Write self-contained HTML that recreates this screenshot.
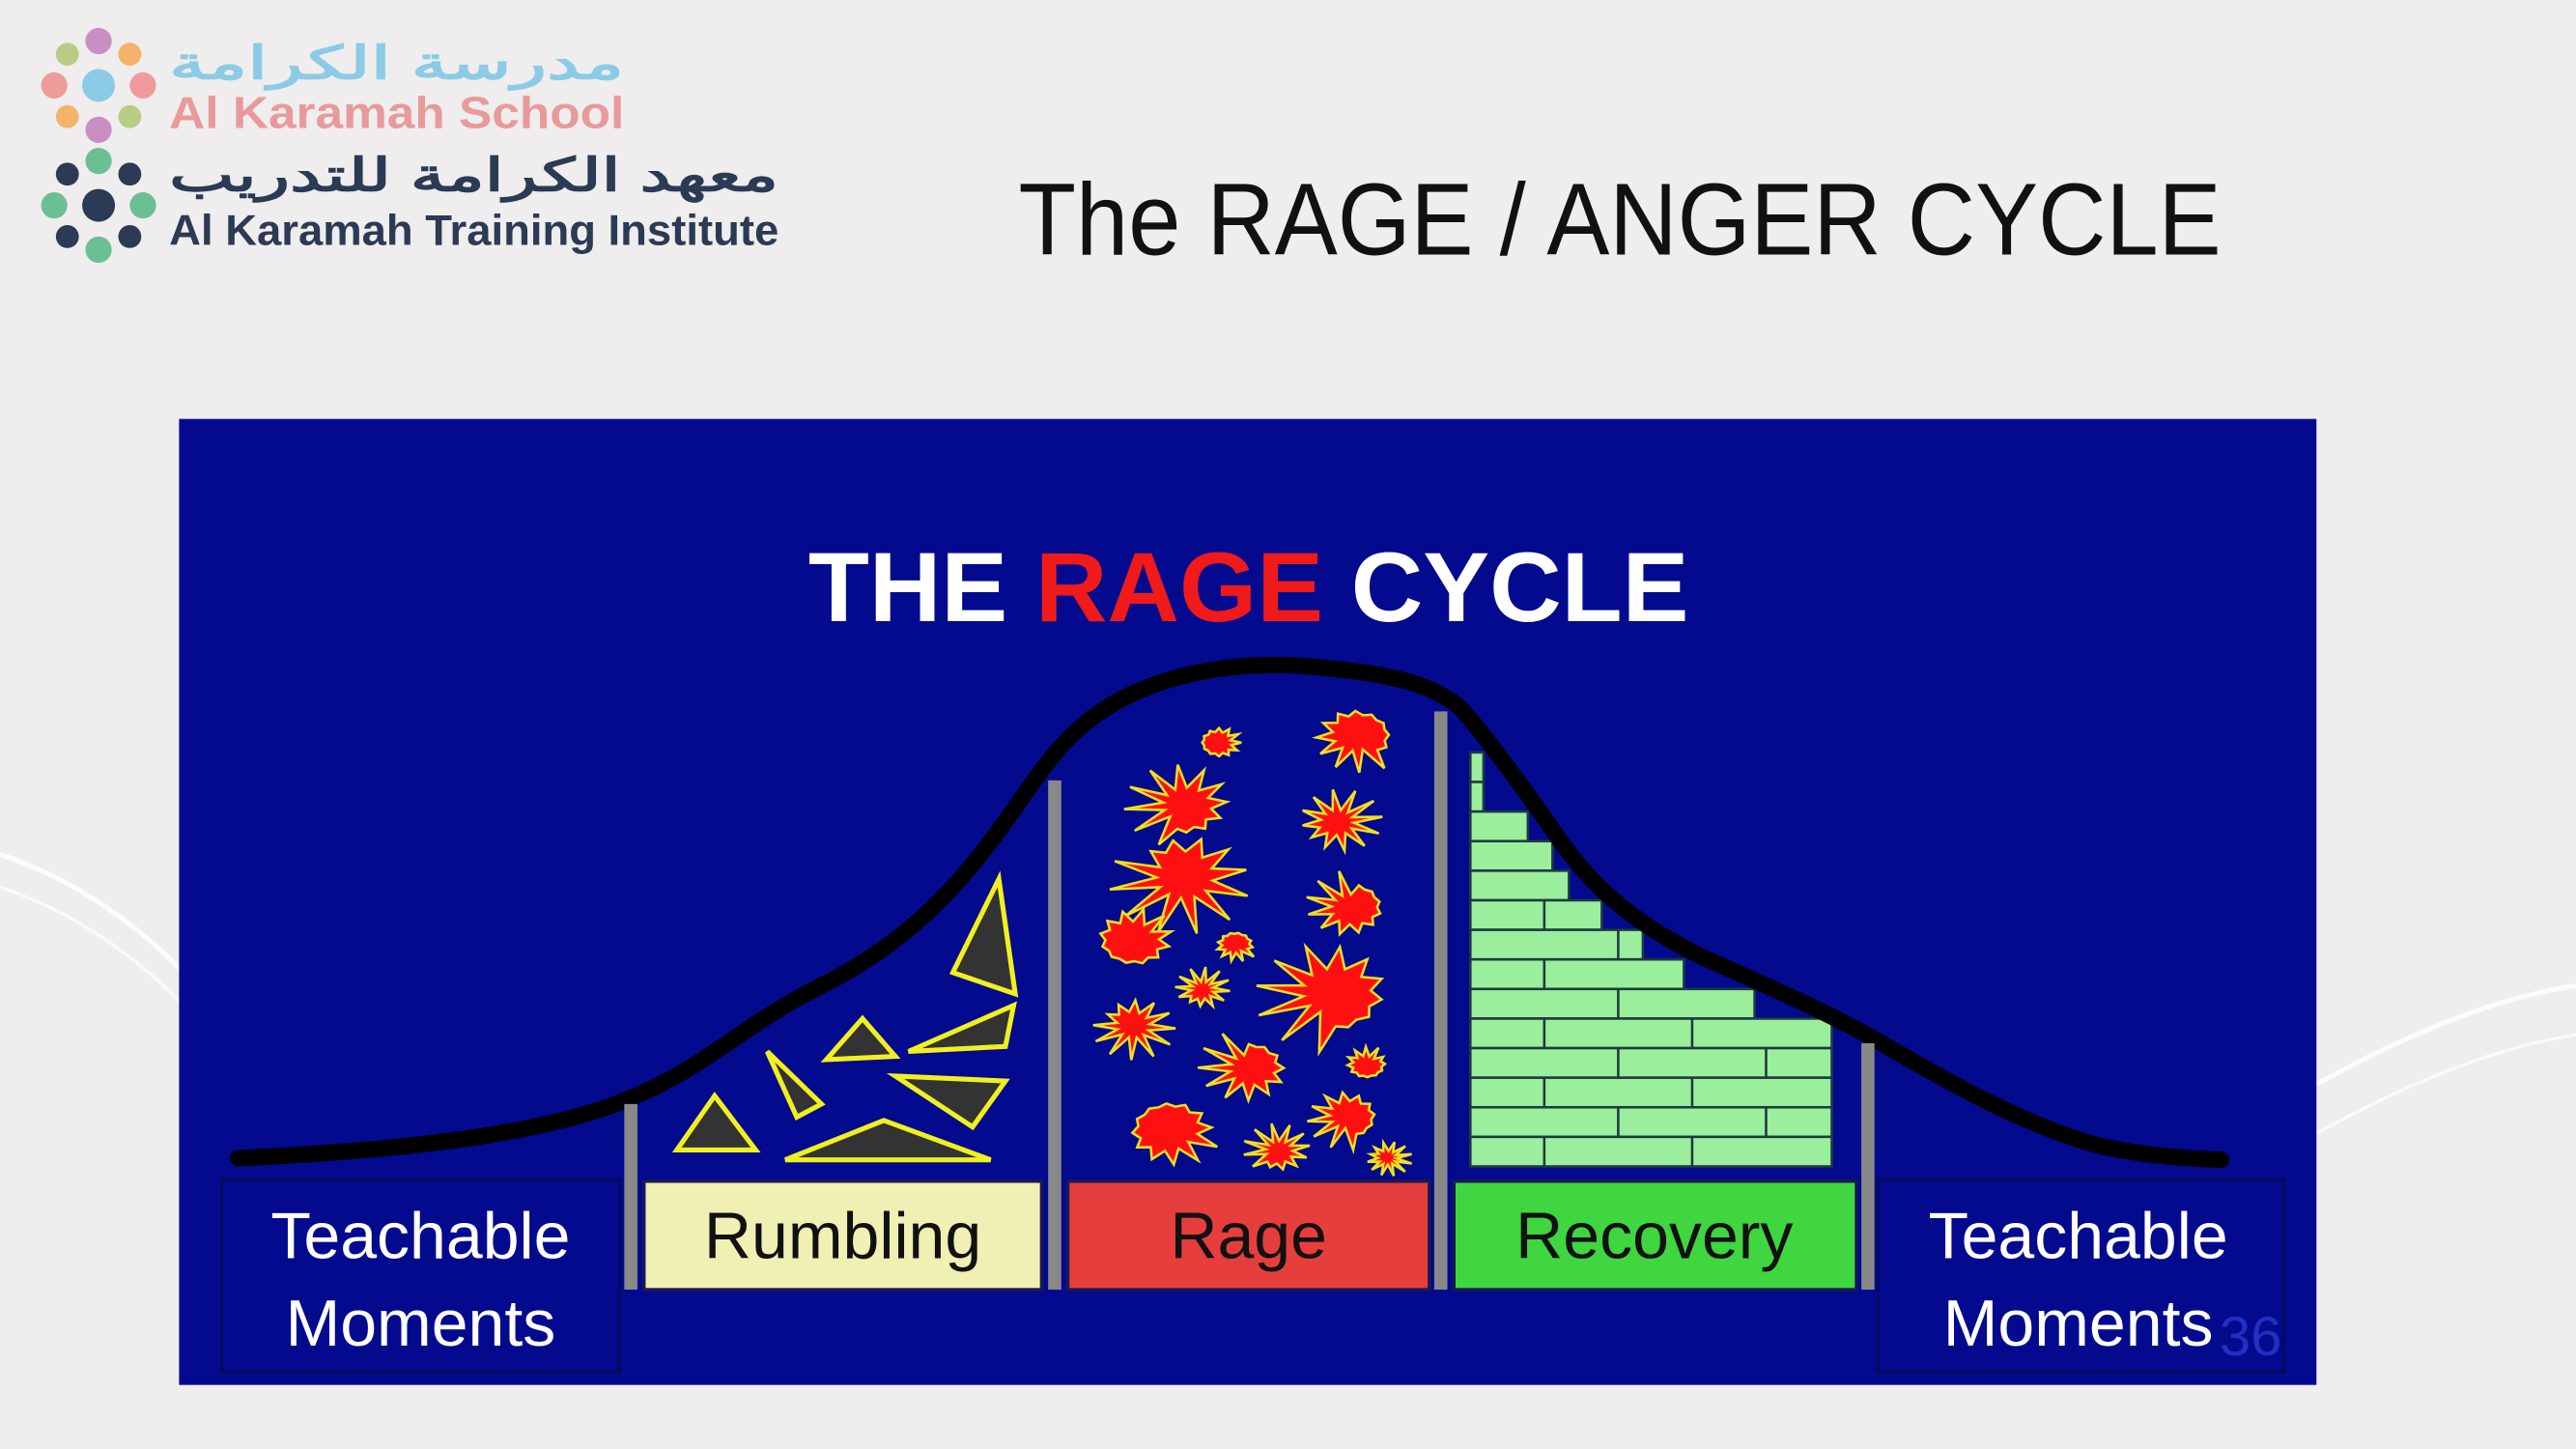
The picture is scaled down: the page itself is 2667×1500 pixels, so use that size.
<!DOCTYPE html>
<html><head><meta charset="utf-8"><style>
html,body{margin:0;padding:0;background:#efeded;}
svg{display:block}
</style></head><body>
<svg width="2667" height="1500" viewBox="0 0 1568 882" preserveAspectRatio="none" xmlns="http://www.w3.org/2000/svg">
<rect width="1568" height="882" fill="#efeded"/>
<path d="M0 520 Q60 540 110 590" stroke="#fff" stroke-width="3" fill="none" opacity="0.8"/>
<path d="M0 540 Q60 560 110 610" stroke="#fff" stroke-width="2" fill="none" opacity="0.7"/>
<path d="M1410 660 Q1500 610 1568 600" stroke="#fff" stroke-width="3" fill="none" opacity="0.8"/>
<path d="M1410 690 Q1500 640 1568 630" stroke="#fff" stroke-width="2" fill="none" opacity="0.7"/>
<g transform="translate(60,52)">
<circle r="10" fill="#8ccbe6"/>
<g fill="#c98fc4"><circle cx="0" cy="-27" r="8"/><circle cx="0" cy="27" r="8"/></g>
<g fill="#ee9b9b"><circle cx="-27" cy="0" r="8"/><circle cx="27" cy="0" r="8"/></g>
<g fill="#f5b26b"><circle cx="19" cy="-19" r="7"/><circle cx="-19" cy="19" r="7"/></g>
<g fill="#b9cc86"><circle cx="-19" cy="-19" r="7"/><circle cx="19" cy="19" r="7"/></g>
</g>
<g transform="translate(60,125)">
<circle r="10" fill="#2b3a55"/>
<g fill="#6cbf95"><circle cx="0" cy="-27" r="8"/><circle cx="0" cy="27" r="8"/><circle cx="-27" cy="0" r="8"/><circle cx="27" cy="0" r="8"/></g>
<g fill="#2b3a55"><circle cx="19" cy="-19" r="7"/><circle cx="-19" cy="19" r="7"/><circle cx="-19" cy="-19" r="7"/><circle cx="19" cy="19" r="7"/></g>
</g>
<text x="380" y="48" text-anchor="end" font-family="'Liberation Sans','Noto Sans CJK SC',sans-serif" font-weight="bold" font-size="28" fill="#8ccbe6" textLength="277" lengthAdjust="spacingAndGlyphs">مدرسة الكرامة</text>
<text x="103" y="78" font-family="'Liberation Sans',sans-serif" font-weight="bold" font-size="27" fill="#e89a9a" textLength="277" lengthAdjust="spacingAndGlyphs">Al Karamah School</text>
<text x="474" y="116" text-anchor="end" font-family="'Liberation Sans','Noto Sans CJK SC',sans-serif" font-weight="bold" font-size="28" fill="#2b3a55" textLength="371" lengthAdjust="spacingAndGlyphs">معهد الكرامة للتدريب</text>
<text x="103" y="149" font-family="'Liberation Sans',sans-serif" font-weight="bold" font-size="26" fill="#2b3a55" textLength="371" lengthAdjust="spacingAndGlyphs">Al Karamah Training Institute</text>
<text x="620" y="155" font-family="'Liberation Sans',sans-serif" font-size="62" fill="#111" textLength="732" lengthAdjust="spacingAndGlyphs">The RAGE / ANGER CYCLE</text>

<rect x="109" y="255" width="1301" height="588" fill="#030a8e"/>
<text x="760" y="378" text-anchor="middle" font-family="'Liberation Sans',sans-serif" font-weight="bold" font-size="60" fill="#fff" textLength="536" lengthAdjust="spacingAndGlyphs">THE <tspan fill="#f01a1a">RAGE</tspan> CYCLE</text>

<g id="bricks"></g>
<g fill="#333" stroke="#f0f020" stroke-width="3">
<polygon points="608,535 618,605 580,592"/>
<polygon points="617,612 553,640 612,637"/>
<polygon points="525,620 545,643 503,645"/>
<polygon points="467,640 500,672 485,680"/>
<polygon points="435,667 460,700 412,700"/>
<polygon points="545,655 612,658 592,686"/>
<polygon points="538,682 603,706 478,706"/>
</g>
<g id="stars" fill="#ff1010" stroke="#f0e020" stroke-width="1.5"></g>

<path d="M145 705 C250 700 330 690 380 670 C430 650 450 625 500 600 C560 570 590 530 612 500 C635 468 650 440 690 422 C720 408 760 402 800 406 C850 410 875 418 890 432 C902 446 922 472 945 505 C965 535 990 560 1035 582 C1075 600 1110 615 1140 632 C1180 655 1230 685 1280 698 C1310 704 1330 705 1352 706" stroke="#000" stroke-width="10" fill="none" stroke-linecap="round"/>

<g fill="#888">
<rect x="380" y="672" width="8" height="113"/>
<rect x="638" y="475" width="8" height="310"/>
<rect x="873" y="433" width="8" height="352"/>
<rect x="1133" y="635" width="8" height="150"/>
</g>
<rect x="135" y="718" width="242" height="117" fill="none" stroke="#020a60" stroke-width="2"/>
<rect x="1143" y="718" width="247" height="117" fill="none" stroke="#020a60" stroke-width="2"/>
<rect x="392" y="719" width="242" height="66" fill="#f0efb4" stroke="#1a1a50" stroke-width="2"/>
<rect x="650" y="719" width="220" height="66" fill="#e63e3c" stroke="#1a1a50" stroke-width="2"/>
<rect x="885" y="719" width="245" height="66" fill="#3fd63f" stroke="#1a1a50" stroke-width="2"/>
<g font-family="'Liberation Sans',sans-serif" font-size="40" text-anchor="middle">
<text x="256" y="766" fill="#fff">Teachable</text>
<text x="256" y="819" fill="#fff">Moments</text>
<text x="1265" y="766" fill="#fff">Teachable</text>
<text x="1265" y="819" fill="#fff">Moments</text>
<text x="513" y="766" fill="#111">Rumbling</text>
<text x="760" y="766" fill="#111">Rage</text>
<text x="1007" y="766" fill="#111">Recovery</text>
</g>
<text x="1370" y="825" font-family="'Liberation Sans',sans-serif" font-size="34" fill="#2030c0" text-anchor="middle">36</text>
</svg>
<script>
var NS="http://www.w3.org/2000/svg";
var stars=[[742,452,17],[826,448,32],[720,490,36],[815,500,27],[720,535,46],[822,552,30],[690,572,32],[752,575,16],[810,605,48],[732,602,18],[690,625,27],[760,650,32],[832,648,17],[712,688,36],[820,680,27],[778,700,22],[845,705,15]];
var g=document.getElementById("stars");
stars.forEach(function(s,k){var p=[],n=12;for(var i=0;i<2*n;i++){var a=i*Math.PI/n+k,r=(i%2?0.55:1)*s[2]*(0.8+0.2*Math.sin(i*3+k));p.push((s[0]+r*Math.cos(a)).toFixed(1)+","+(s[1]+r*Math.sin(a)*0.75).toFixed(1));}
var e=document.createElementNS(NS,"polygon");e.setAttribute("points",p.join(" "));g.appendChild(e);});
var b=document.getElementById("bricks");
var rows=[[458,903],[476,903],[494,930],[512,945],[530,955],[548,975],[566,1000],[584,1025],[602,1068],[620,1115],[638,1115],[656,1115],[674,1115],[692,1115]];
rows.forEach(function(r,i){var x0=895,y=r[0],R=r[1];
var e=document.createElementNS(NS,"rect");e.setAttribute("x",x0);e.setAttribute("y",y);e.setAttribute("width",R-x0);e.setAttribute("height",18);e.setAttribute("fill","#9bee9b");e.setAttribute("stroke","#1d3a40");e.setAttribute("stroke-width","1.5");b.appendChild(e);
for(var x=x0+(i%2?45:90);x<R-5;x+=90){var l=document.createElementNS(NS,"line");l.setAttribute("x1",x);l.setAttribute("x2",x);l.setAttribute("y1",y);l.setAttribute("y2",y+18);l.setAttribute("stroke","#1d3a40");l.setAttribute("stroke-width","1.5");b.appendChild(l);}});
</script>
</body></html>
